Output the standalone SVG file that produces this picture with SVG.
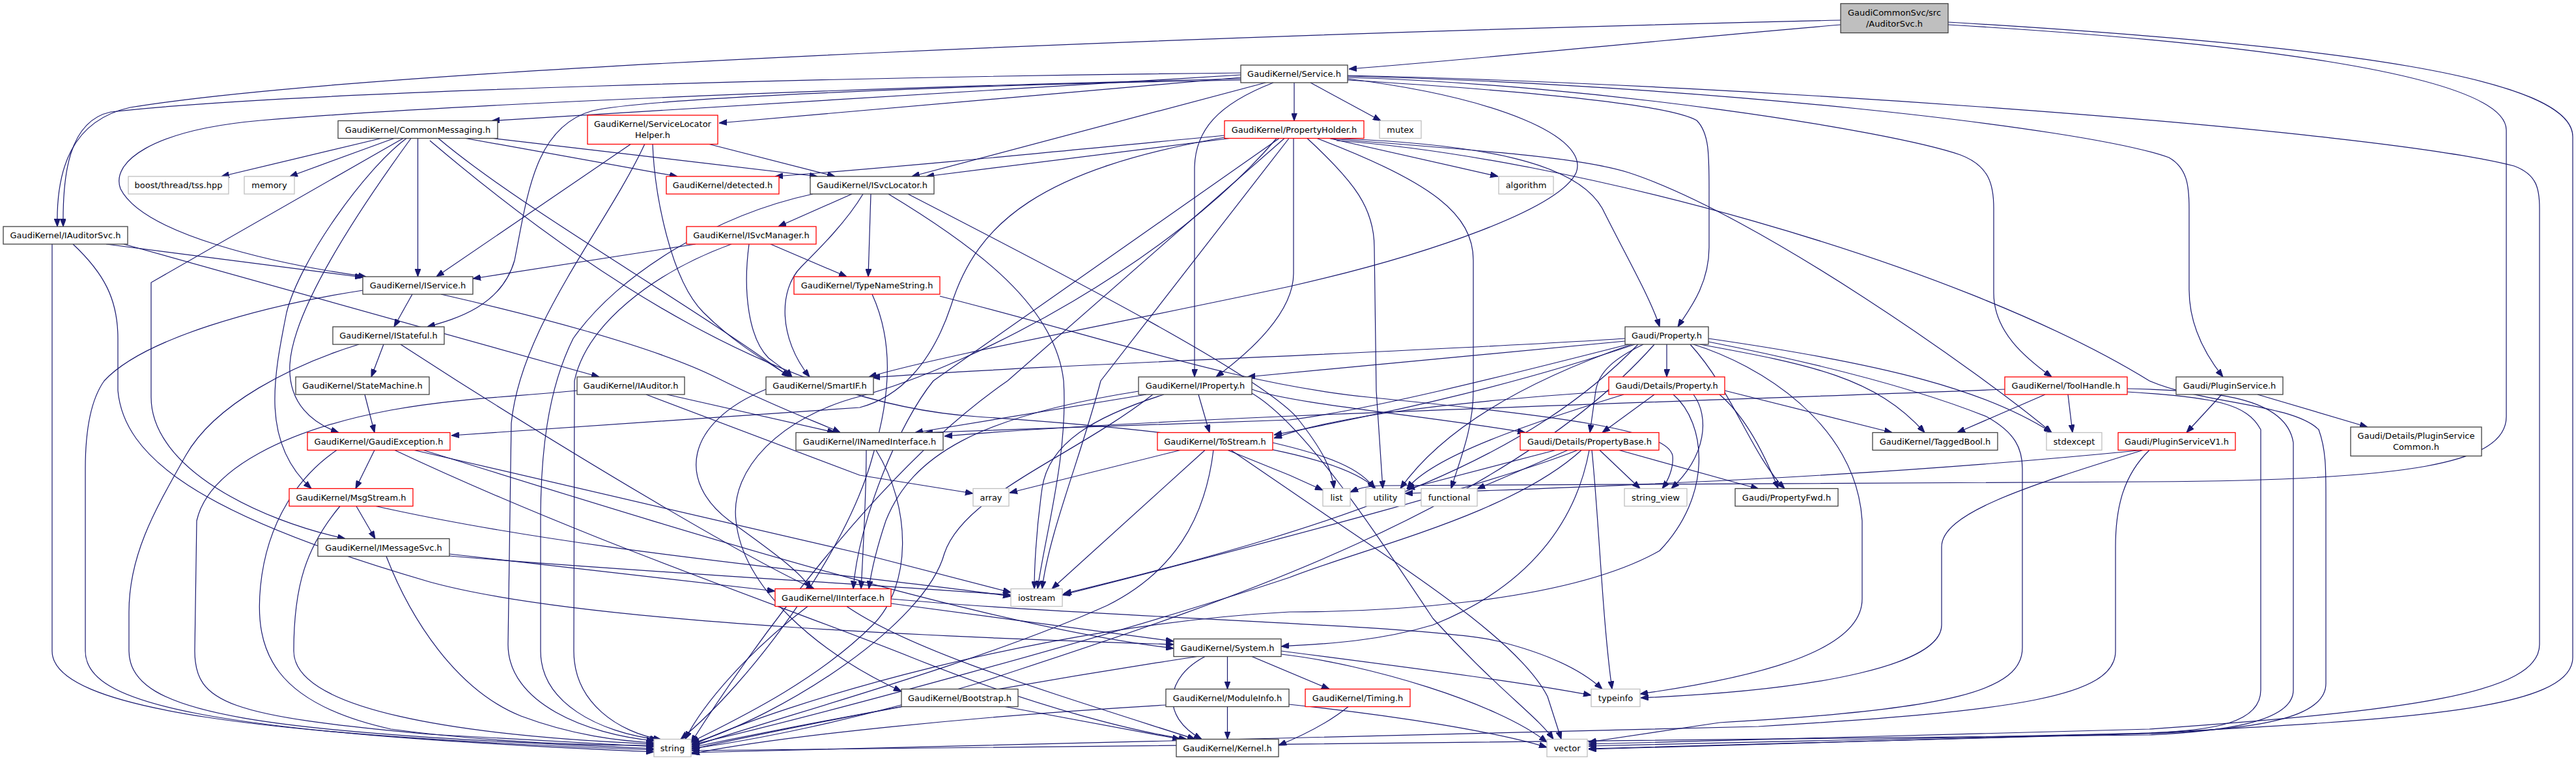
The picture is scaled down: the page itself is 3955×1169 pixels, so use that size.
<svg xmlns="http://www.w3.org/2000/svg" width="3955" height="1169" viewBox="0 0 3955 1169">
<defs>
<marker id="a" markerWidth="12" markerHeight="9" refX="12" refY="4.5" orient="auto" markerUnits="userSpaceOnUse"><path d="M0,0 L12,4.5 L0,9 z" fill="#191970" stroke="#191970" stroke-width="1"/></marker>
</defs>
<style>
.e{fill:none;stroke:#191970;stroke-width:1.2;marker-end:url(#a)}
rect{stroke-width:1.3}
.nb rect{fill:#fff;stroke:#404040}
.nr rect{fill:#fff;stroke:#ff0000}
.ng rect{fill:#fff;stroke:#bfbfbf}
.root rect{fill:#bfbfbf;stroke:#404040}
text{font-family:"DejaVu Sans","Liberation Sans",sans-serif;font-size:13px;fill:#000;text-anchor:middle}
</style>
<rect x="0" y="0" width="3955" height="1169" fill="#fff"/>
<g id="edges">
<path class="e" d="M2826,38 C2500,66 2300,88 2071,106"/>
<path class="e" d="M2826,31 C2000,50 600,100 200,165 C110,185 86,260 88,348"/>
<path class="e" d="M2991,38 C3400,62 3848,110 3848,200 L3848,640 C3848,712 3700,738 3300,740 L2120,746 C2095,747 2085,751 2073,756"/>
<path class="e" d="M2991,34 C3600,70 3950,120 3950,210 L3950,1010 C3950,1090 3700,1105 3300,1126 L2439,1146"/>
<path class="e" d="M1905,112 C1300,118 450,140 170,172 C105,186 96,270 97,348"/>
<path class="e" d="M1905,115 L755,185.5"/>
<path class="e" d="M1905,119 L1104,189"/>
<path class="e" d="M1905,121 C1300,135 700,160 400,185 C230,200 170,250 185,290 C220,360 420,405 562,425"/>
<path class="e" d="M1905,123 C1500,130 1000,150 910,170 C820,195 810,300 790,400 C770,470 700,490 656,502"/>
<path class="e" d="M1943,127 L1400,271"/>
<path class="e" d="M1987,127 L1987,185.5"/>
<path class="e" d="M2012,127 L2120,185.5"/>
<path class="e" d="M1955,127 C1870,160 1834,200 1834,260 L1834,579"/>
<path class="e" d="M2069,121 C2300,150 2440,210 2420,265 C2395,320 2200,390 1980,440 C1700,500 1450,545 1334,579"/>
<path class="e" d="M2069,123 C2350,140 2560,160 2605,185 C2625,205 2624,240 2624,300 L2624,380 C2624,440 2590,480 2576,502"/>
<path class="e" d="M2069,119 C2450,130 2900,200 3010,238 C3055,255 3061,285 3061,320 L3061,450 C3061,510 3110,550 3150,579"/>
<path class="e" d="M2069,117 C2600,130 3200,195 3330,242 C3358,258 3361,285 3361,320 L3361,445 C3361,505 3390,550 3413,579"/>
<path class="e" d="M2069,116 C2700,130 3650,200 3860,255 C3895,268 3899,290 3899,320 L3899,990 C3899,1065 3700,1092 3300,1120 L2439,1143"/>
<path class="e" d="M585,212.5 L340,271"/>
<path class="e" d="M605,212.5 L445,271"/>
<path class="e" d="M619,212.5 L232,434 L232,610 C232,720 400,800 530,827.5"/>
<path class="e" d="M624,212.5 C560,260 460,400 440,480 C420,580 400,680 478,750.5"/>
<path class="e" d="M631,212.5 C560,310 450,470 445,560 C442,620 480,650 520,664.5"/>
<path class="e" d="M641.5,212.5 L641.5,425"/>
<path class="e" d="M660,216 C900,420 1200,620 1500,640 C1800,660 2050,690 2112,750.5"/>
<path class="e" d="M673,212.5 C800,320 1050,460 1212,579"/>
<path class="e" d="M715,212.5 L1040,271"/>
<path class="e" d="M757,212.5 L1255,271"/>
<path class="e" d="M969,221 L670,425"/>
<path class="e" d="M990,221 C930,350 800,500 785,650 L780,990 C780,1080 900,1128 1005,1138"/>
<path class="e" d="M1002,221 C1005,300 1030,430 1080,480 C1130,530 1185,560 1214,579"/>
<path class="e" d="M1087,221 L1282,271"/>
<path class="e" d="M1880,208 C1600,235 1400,255 1190,271"/>
<path class="e" d="M1888,212.5 L1422,271"/>
<path class="e" d="M1880,211 C1600,260 1500,340 1460,470 C1430,560 1380,610 1320,626 L693,669"/>
<path class="e" d="M1964,212.5 L1433,585 C1380,650 1318,800 1310,904.5"/>
<path class="e" d="M1986,212.5 L1986,420 C1986,480 1920,540 1867,579"/>
<path class="e" d="M2052,212.5 C2280,222 2420,250 2460,320 C2500,400 2535,460 2548,502"/>
<path class="e" d="M2041,212.5 L2300,271"/>
<path class="e" d="M2022,212.5 C2200,280 2262,330 2262,400 L2262,600 C2262,660 2240,710 2228,750.5"/>
<path class="e" d="M2007,212.5 C2080,280 2110,320 2110,380 L2113,600 L2123,750.5"/>
<path class="e" d="M1979,212.5 L1690,585 C1660,700 1610,820 1600,904.5"/>
<path class="e" d="M2043,213 C2250,230 2420,240 2500,265 C2700,330 3050,580 3150,664.5"/>
<path class="e" d="M1972,212.5 L1547,585 C1350,720 1150,1000 1061,1141"/>
<path class="e" d="M2052,216 C2400,240 3000,400 3300,585 C3380,620 3520,620 3560,660 C3571,690 3571,720 3571,760 L3571,1050 C3571,1100 3480,1120 3300,1127 L2439,1150"/>
<path class="e" d="M1960,212.5 C1800,400 1500,560 1320,609 C1200,640 1120,720 1130,800 C1140,900 1250,1000 1384,1062"/>
<path class="e" d="M1308,298 L1195,348"/>
<path class="e" d="M1337,298 L1333,425"/>
<path class="e" d="M1325,298 C1300,340 1260,380 1230,410 C1195,445 1195,520 1243,579"/>
<path class="e" d="M1248,298 C1100,330 950,420 880,520 C840,600 830,700 830,800 L830,1000 C830,1080 920,1125 1010,1136"/>
<path class="e" d="M1364,298 C1500,380 1620,470 1633,585 C1640,700 1605,820 1593,904.5"/>
<path class="e" d="M1394,298 C1650,430 1930,575 1990,640 C2030,690 2045,720 2048,750.5"/>
<path class="e" d="M1068,375 L726,428"/>
<path class="e" d="M1123,375 C1000,420 900,500 882,585 L881,1000 C881,1080 950,1125 1015,1136"/>
<path class="e" d="M1150,375 C1140,450 1150,520 1180,550 C1200,565 1210,572 1216,579"/>
<path class="e" d="M1183,375 L1300,425"/>
<path class="e" d="M1339,452 C1370,520 1370,600 1340,700 C1300,850 1150,1050 1045,1135.5"/>
<path class="e" d="M1443,455 C1700,520 1900,590 2100,610 C2400,640 2560,660 2568,700 C2570,720 2560,740 2552,750.5"/>
<path class="e" d="M80,375 L80,1000 C80,1090 400,1130 1004,1152"/>
<path class="e" d="M112,375 C160,420 181,460 181,520 L181,600 C190,700 300,790 660,894 C900,960 1500,980 1802,990"/>
<path class="e" d="M163,375 L557,426"/>
<path class="e" d="M190,375 L920,579"/>
<path class="e" d="M633,452 L605,502"/>
<path class="e" d="M557,446 C400,470 220,520 160,585 C135,620 131,680 131,720 L131,1000 C131,1080 300,1125 1004,1155"/>
<path class="e" d="M677,452 C800,480 1000,530 1100,580 C1200,630 1260,650 1290,664.5"/>
<path class="e" d="M589,529 L570,579"/>
<path class="e" d="M551,529 C450,560 330,620 285,700 C240,780 198,850 198,940 L198,1000 C198,1100 400,1125 1004,1150"/>
<path class="e" d="M615,529 L702,585 C900,710 1150,860 1250,904.5"/>
<path class="e" d="M560,606 L575,664.5"/>
<path class="e" d="M886,600 C780,610 700,612 600,630 C440,660 320,720 302,800 L299,1000 C299,1080 350,1100 660,1128 L1004,1147"/>
<path class="e" d="M1024,606 L1282,664.5"/>
<path class="e" d="M992,606 L1320,730 L1494,758"/>
<path class="e" d="M1176,598 C1050,650 1040,740 1120,800 C1190,850 1230,880 1245,904.5"/>
<path class="e" d="M2559,529 L2559,579"/>
<path class="e" d="M2523,529 C2480,550 2455,570 2450,600 L2441,664.5"/>
<path class="e" d="M2495,524 L1915,579"/>
<path class="e" d="M2495,520 C2200,540 1600,560 1339,580"/>
<path class="e" d="M2500,529 C2300,580 2100,630 1980,645 L1420,664.5"/>
<path class="e" d="M2510,529 C2300,600 2100,640 1956,668"/>
<path class="e" d="M2515,529 C2350,700 2100,800 1633,912"/>
<path class="e" d="M2540,529 C2300,800 1800,950 1500,1050 C1300,1110 1150,1138 1062,1150"/>
<path class="e" d="M2505,529 C2300,600 2200,680 2150,750.5"/>
<path class="e" d="M2610,529 C2780,560 2880,580 2955,664.5"/>
<path class="e" d="M2595,529 C2660,600 2690,700 2740,750.5"/>
<path class="e" d="M2623,520 C2900,560 3050,600 3150,664.5"/>
<path class="e" d="M2600,529 C2700,560 2850,650 2859,800 L2859,920 C2859,1000 2700,1040 2518,1066"/>
<path class="e" d="M2623,525 C2800,560 2950,600 3050,640 C3095,665 3105,690 3105,720 L3105,995 C3105,1060 3000,1090 2640,1110 L2439,1140"/>
<path class="e" d="M2540,606 L2460,664.5"/>
<path class="e" d="M2600,606 C2625,640 2620,700 2566,750.5"/>
<path class="e" d="M2648,600 L2905,664.5"/>
<path class="e" d="M2470,601 C2200,620 2050,640 1956,673"/>
<path class="e" d="M2493,606 C2350,650 2200,700 2160,751"/>
<path class="e" d="M2569,606 C2620,650 2630,760 2548,846 C2400,930 2100,940 1980,940 C1600,960 1200,1080 1062,1145"/>
<path class="e" d="M2640,606 C2680,640 2710,700 2730,750.5"/>
<path class="e" d="M3140,606 L3005,664.5"/>
<path class="e" d="M3175,606 L3182,664.5"/>
<path class="e" d="M3078,598 C2500,620 1800,640 1450,670"/>
<path class="e" d="M3266,602 C3400,610 3450,620 3471,660 L3471,1060 C3471,1110 3400,1122 3300,1126 L2439,1151"/>
<path class="e" d="M3266,597 C3400,600 3510,610 3521,680 L3521,1060 C3521,1112 3400,1124 3300,1129 L1062,1153"/>
<path class="e" d="M3411,606 L3357,664.5"/>
<path class="e" d="M3466,606 L3635,656"/>
<path class="e" d="M3288,691.5 C3000,720 2700,740 2157,758"/>
<path class="e" d="M3290,691.5 C3100,750 2981,790 2981,840 L2981,960 C2981,1020 2800,1060 2519,1072"/>
<path class="e" d="M3300,691.5 C3260,730 3248,780 3248,840 L3248,1000 C3248,1070 3100,1092 2700,1116 L1062,1156"/>
<path class="e" d="M517,691.5 C460,730 410,800 400,900 C390,1000 420,1080 600,1120 C750,1140 900,1145 1004,1145"/>
<path class="e" d="M575,691.5 L546,750.5"/>
<path class="e" d="M636,691.5 L1320,850 L1552,910"/>
<path class="e" d="M606,691.5 C900,830 1200,930 1400,1010 C1600,1090 1750,1125 1822,1135.5"/>
<path class="e" d="M650,691.5 C1000,800 1500,960 1802,996"/>
<path class="e" d="M522,777.5 C470,840 451,900 451,1000 C451,1090 700,1130 1004,1143"/>
<path class="e" d="M547,777.5 L576,827.5"/>
<path class="e" d="M577,777.5 C900,850 1300,880 1552,916"/>
<path class="e" d="M593,854.5 C630,950 700,1060 800,1100 C880,1130 950,1138 1004,1141"/>
<path class="e" d="M690,851 L1190,908"/>
<path class="e" d="M690,854 C1000,880 1300,895 1552,914"/>
<path class="e" d="M1330,691.5 C1330,760 1325,850 1322,904.5"/>
<path class="e" d="M1345,691.5 C1400,780 1400,900 1340,960 C1250,1050 1120,1110 1061,1140"/>
<path class="e" d="M1368,927 L1802,985"/>
<path class="e" d="M1368,920 C1700,950 2200,960 2300,985 C2400,1010 2440,1040 2460,1058.5"/>
<path class="e" d="M1300,931.5 C1400,1000 1600,1060 1835,1135.5"/>
<path class="e" d="M1240,931.5 C1150,1000 1080,1080 1052,1135.5"/>
<path class="e" d="M1922,598 C1980,620 2200,640 2342,664.5"/>
<path class="e" d="M1760,606 L1405,664.5"/>
<path class="e" d="M1840,606 L1857,664.5"/>
<path class="e" d="M1787,606 C1680,640 1610,680 1600,750 C1590,820 1588,880 1588,904.5"/>
<path class="e" d="M1748,601 C1500,640 1400,700 1360,800 C1340,860 1336,890 1334,904.5"/>
<path class="e" d="M1770,606 C1650,700 1480,760 1450,850 C1420,960 1200,1100 1062,1142"/>
<path class="e" d="M1922,604 C2000,650 2100,800 2200,950 C2300,1060 2360,1100 2385,1135.5"/>
<path class="e" d="M1812,691.5 L1550,757"/>
<path class="e" d="M1850,691.5 L1615,904.5"/>
<path class="e" d="M1863,691.5 C1850,800 1800,880 1700,930 C1500,1020 1200,1100 1062,1147"/>
<path class="e" d="M1885,691.5 L1980,730 L2031,753"/>
<path class="e" d="M1890,691.5 L1980,753 C2150,870 2330,980 2376,1070 L2397,1135.5"/>
<path class="e" d="M1954,680 C2040,700 2090,720 2110,750.5"/>
<path class="e" d="M2388,691.5 L2160,751"/>
<path class="e" d="M2407,691.5 L2268,751"/>
<path class="e" d="M2422,691.5 C2300,740 2000,820 1631,914"/>
<path class="e" d="M2428,691.5 C2320,790 2100,840 1980,887 C1700,980 1250,1100 1062,1144"/>
<path class="e" d="M2440,691.5 C2420,800 2350,900 2200,960 C2100,990 2000,990 1967,993"/>
<path class="e" d="M2444,691.5 C2455,800 2460,950 2475,1058.5"/>
<path class="e" d="M2456,691.5 L2518,750.5"/>
<path class="e" d="M2486,691.5 L2700,751"/>
<path class="e" d="M1884.5,1008.5 L1884.5,1058.5"/>
<path class="e" d="M1850,1008.5 C1790,1040 1780,1100 1845,1135.5"/>
<path class="e" d="M1838,1008.5 C1500,1060 1200,1120 1062,1151"/>
<path class="e" d="M1922,1008.5 L2041,1058.5"/>
<path class="e" d="M1967,1000 C2200,1030 2350,1050 2443,1068"/>
<path class="e" d="M1967,1005 C2100,1020 2300,1080 2375,1140"/>
<path class="e" d="M1384,1085.5 C1250,1110 1150,1130 1062,1148"/>
<path class="e" d="M1543,1085.5 L1812,1135.5"/>
<path class="e" d="M1884.5,1085.5 L1884.5,1135.5"/>
<path class="e" d="M1790,1083 C1500,1100 1200,1130 1062,1158"/>
<path class="e" d="M1979,1082 C2150,1100 2300,1125 2375,1148"/>
<path class="e" d="M2070,1085.5 C2040,1110 2000,1130 1963,1145"/>
</g>
<g id="n_root" class="root"><rect x="2826" y="5.5" width="165" height="45"/><text x="2908.5" y="24">GaudiCommonSvc/src</text><text x="2908.5" y="41">/AuditorSvc.h</text></g>
<g id="n_service" class="nb"><rect x="1905" y="100" width="164" height="27"/><text x="1987" y="118">GaudiKernel/Service.h</text></g>
<g id="n_commonmessaging" class="nb"><rect x="519" y="185.5" width="245" height="27"/><text x="641.5" y="203.5">GaudiKernel/CommonMessaging.h</text></g>
<g id="n_servicelocatorhelper" class="nr"><rect x="902" y="177" width="200" height="44.5"/><text x="1002" y="195">GaudiKernel/ServiceLocator</text><text x="1002" y="211.5">Helper.h</text></g>
<g id="n_propertyholder" class="nr"><rect x="1880" y="185.5" width="214" height="27"/><text x="1987" y="203.5">GaudiKernel/PropertyHolder.h</text></g>
<g id="n_mutex" class="ng"><rect x="2118" y="185.5" width="64" height="27"/><text x="2150" y="203.5">mutex</text></g>
<g id="n_boost" class="ng"><rect x="197" y="271" width="154" height="27"/><text x="274" y="289">boost/thread/tss.hpp</text></g>
<g id="n_memory" class="ng"><rect x="375" y="271" width="77" height="27"/><text x="413.5" y="289">memory</text></g>
<g id="n_detected" class="nr"><rect x="1023" y="271" width="173" height="27"/><text x="1109.5" y="289">GaudiKernel/detected.h</text></g>
<g id="n_isvclocator" class="nb"><rect x="1244" y="271" width="190" height="27"/><text x="1339" y="289">GaudiKernel/ISvcLocator.h</text></g>
<g id="n_algorithm" class="ng"><rect x="2301" y="271" width="84" height="27"/><text x="2343" y="289">algorithm</text></g>
<g id="n_iauditorsvc" class="nb"><rect x="5" y="348" width="191" height="27"/><text x="100.5" y="366">GaudiKernel/IAuditorSvc.h</text></g>
<g id="n_isvcmanager" class="nr"><rect x="1054" y="348" width="199" height="27"/><text x="1153.5" y="366">GaudiKernel/ISvcManager.h</text></g>
<g id="n_iservice" class="nb"><rect x="557" y="425" width="169" height="27"/><text x="641.5" y="443">GaudiKernel/IService.h</text></g>
<g id="n_typenamestring" class="nr"><rect x="1219" y="425" width="224" height="27"/><text x="1331" y="443">GaudiKernel/TypeNameString.h</text></g>
<g id="n_istateful" class="nb"><rect x="511" y="502" width="171" height="27"/><text x="596.5" y="520">GaudiKernel/IStateful.h</text></g>
<g id="n_property" class="nb"><rect x="2495" y="502" width="128" height="27"/><text x="2559" y="520">Gaudi/Property.h</text></g>
<g id="n_statemachine" class="nb"><rect x="454" y="579" width="205" height="27"/><text x="556.5" y="597">GaudiKernel/StateMachine.h</text></g>
<g id="n_iauditor" class="nb"><rect x="886" y="579" width="165" height="27"/><text x="968.5" y="597">GaudiKernel/IAuditor.h</text></g>
<g id="n_smartif" class="nb"><rect x="1176" y="579" width="165" height="27"/><text x="1258.5" y="597">GaudiKernel/SmartIF.h</text></g>
<g id="n_iproperty" class="nb"><rect x="1748" y="579" width="174" height="27"/><text x="1835" y="597">GaudiKernel/IProperty.h</text></g>
<g id="n_detailsproperty" class="nr"><rect x="2470" y="579" width="178" height="27"/><text x="2559" y="597">Gaudi/Details/Property.h</text></g>
<g id="n_toolhandle" class="nr"><rect x="3078" y="579" width="188" height="27"/><text x="3172" y="597">GaudiKernel/ToolHandle.h</text></g>
<g id="n_pluginservice" class="nb"><rect x="3341" y="579" width="164" height="27"/><text x="3423" y="597">Gaudi/PluginService.h</text></g>
<g id="n_gaudiexception" class="nr"><rect x="472" y="664.5" width="219" height="27"/><text x="581.5" y="682.5">GaudiKernel/GaudiException.h</text></g>
<g id="n_inamedinterface" class="nb"><rect x="1222" y="664.5" width="226" height="27"/><text x="1335" y="682.5">GaudiKernel/INamedInterface.h</text></g>
<g id="n_tostream" class="nr"><rect x="1777" y="664.5" width="177" height="27"/><text x="1865.5" y="682.5">GaudiKernel/ToStream.h</text></g>
<g id="n_propertybase" class="nr"><rect x="2334" y="664.5" width="213" height="27"/><text x="2440.5" y="682.5">Gaudi/Details/PropertyBase.h</text></g>
<g id="n_taggedbool" class="nb"><rect x="2875" y="664.5" width="192" height="27"/><text x="2971" y="682.5">GaudiKernel/TaggedBool.h</text></g>
<g id="n_stdexcept" class="ng"><rect x="3142" y="664.5" width="85" height="27"/><text x="3184.5" y="682.5">stdexcept</text></g>
<g id="n_pluginservicev1" class="nr"><rect x="3252" y="664.5" width="180" height="27"/><text x="3342" y="682.5">Gaudi/PluginServiceV1.h</text></g>
<g id="n_pluginservicecommon" class="nb"><rect x="3609" y="656" width="201" height="44.5"/><text x="3709.5" y="674">Gaudi/Details/PluginService</text><text x="3709.5" y="691">Common.h</text></g>
<g id="n_msgstream" class="nr"><rect x="444" y="750.5" width="190" height="27"/><text x="539" y="768.5">GaudiKernel/MsgStream.h</text></g>
<g id="n_array" class="ng"><rect x="1494" y="750.5" width="55" height="27"/><text x="1521.5" y="768.5">array</text></g>
<g id="n_list" class="ng"><rect x="2031" y="750.5" width="42" height="27"/><text x="2052" y="768.5">list</text></g>
<g id="n_utility" class="ng"><rect x="2097" y="750.5" width="60" height="27"/><text x="2127" y="768.5">utility</text></g>
<g id="n_functional" class="ng"><rect x="2182" y="750.5" width="86" height="27"/><text x="2225" y="768.5">functional</text></g>
<g id="n_string_view" class="ng"><rect x="2494" y="750.5" width="96" height="27"/><text x="2542" y="768.5">string_view</text></g>
<g id="n_propertyfwd" class="nb"><rect x="2664" y="750.5" width="158" height="27"/><text x="2743" y="768.5">Gaudi/PropertyFwd.h</text></g>
<g id="n_imessagesvc" class="nb"><rect x="488" y="827.5" width="202" height="27"/><text x="589" y="845.5">GaudiKernel/IMessageSvc.h</text></g>
<g id="n_iinterface" class="nr"><rect x="1190" y="904.5" width="178" height="27"/><text x="1279" y="922.5">GaudiKernel/IInterface.h</text></g>
<g id="n_iostream" class="ng"><rect x="1552" y="904.5" width="79" height="27"/><text x="1591.5" y="922.5">iostream</text></g>
<g id="n_system" class="nb"><rect x="1802" y="981.5" width="165" height="27"/><text x="1884.5" y="999.5">GaudiKernel/System.h</text></g>
<g id="n_bootstrap" class="nb"><rect x="1384" y="1058.5" width="179" height="27"/><text x="1473.5" y="1076.5">GaudiKernel/Bootstrap.h</text></g>
<g id="n_moduleinfo" class="nb"><rect x="1790" y="1058.5" width="189" height="27"/><text x="1884.5" y="1076.5">GaudiKernel/ModuleInfo.h</text></g>
<g id="n_timing" class="nr"><rect x="2004" y="1058.5" width="161" height="27"/><text x="2084.5" y="1076.5">GaudiKernel/Timing.h</text></g>
<g id="n_typeinfo" class="ng"><rect x="2443" y="1058.5" width="75" height="27"/><text x="2480.5" y="1076.5">typeinfo</text></g>
<g id="n_string" class="ng"><rect x="1004" y="1135.5" width="57" height="27"/><text x="1032.5" y="1153.5">string</text></g>
<g id="n_kernel" class="nb"><rect x="1806" y="1135.5" width="157" height="27"/><text x="1884.5" y="1153.5">GaudiKernel/Kernel.h</text></g>
<g id="n_vector" class="ng"><rect x="2375" y="1135.5" width="62" height="27"/><text x="2406" y="1153.5">vector</text></g>
</svg>
